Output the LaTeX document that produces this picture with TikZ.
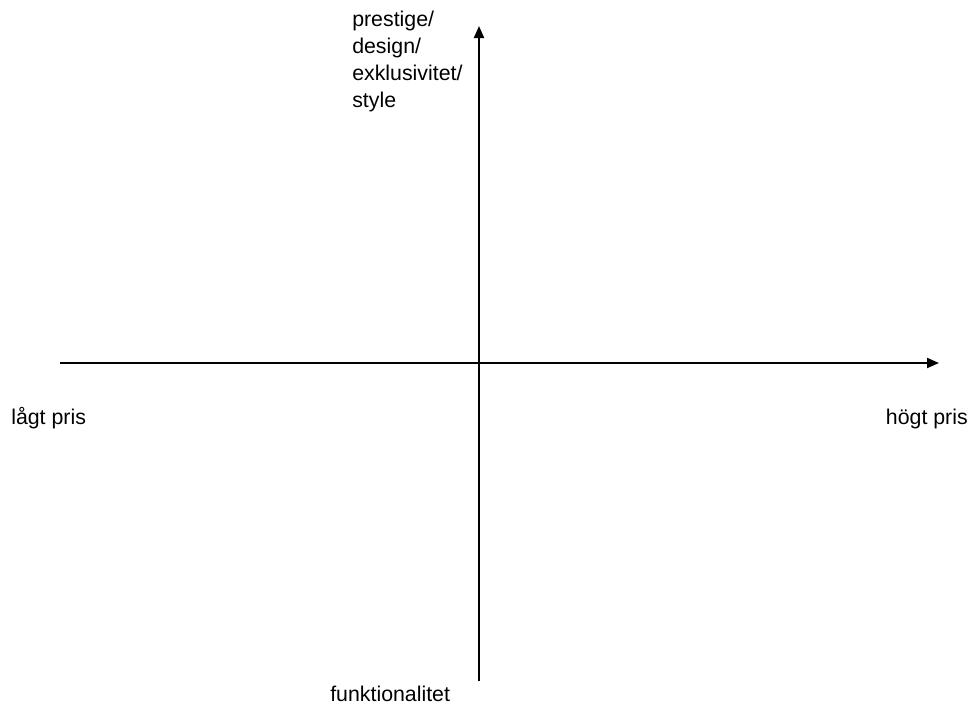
\documentclass[tikz,border=0pt]{standalone}
\usepackage{fontspec}
\setmainfont{Liberation Sans}
\usetikzlibrary{arrows.meta}
\begin{document}
\begin{tikzpicture}[x=0.75pt,y=-0.75pt,
  axis/.style={line width=1.5pt,-{Triangle[length=9pt,width=7.5pt]}},
  lbl/.style={inner sep=0pt,font=\fontsize{16pt}{20.2pt}\selectfont}]
\useasboundingbox (0,0) rectangle (972,704);
\coordinate (xl) at (60,363);
\coordinate (xr) at (939,363);
\coordinate (yb) at (479,681);
\coordinate (yt) at (479,26);
\draw[axis] (xl) -- (xr);
\draw[axis] (yb) -- (yt);
\node[lbl,anchor=north west,align=left] (top) at (352,11) {prestige/\\design/\\exklusivitet/\\style};
\node[lbl,anchor=base west] (low) at (11,424) {lågt pris};
\node[lbl,anchor=base east] (high) at (968,424) {högt pris};
\node[lbl,anchor=base west] (func) at (330,701) {funktionalitet};
\end{tikzpicture}
\end{document}
